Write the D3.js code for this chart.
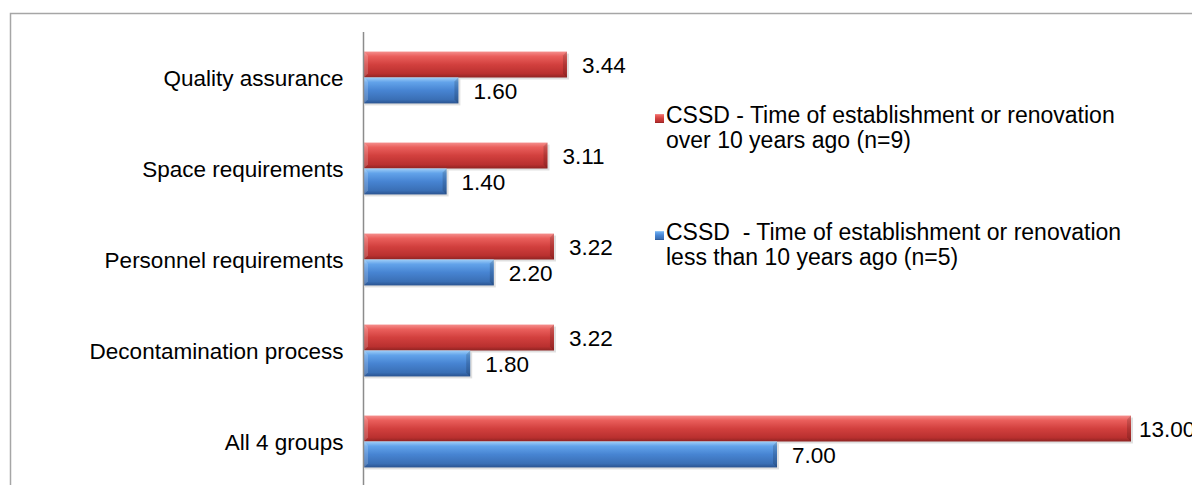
<!DOCTYPE html>
<html><head><meta charset="utf-8">
<script src="https://cdn.jsdelivr.net/npm/d3@7"></script>
<style>body{margin:0;background:#fff}svg{display:block}text{font-family:"Liberation Sans",Arial,sans-serif;fill:#000}</style>
</head><body><svg id="c" width="1192" height="485"></svg>
<script>
const categories = ["Quality assurance","Space requirements","Personnel requirements","Decontamination process","All 4 groups"];
const seriesNames = ["CSSD - Time of establishment or renovation|over 10 years ago (n=9)","CSSD  - Time of establishment or renovation|less than 10 years ago (n=5)"];
const over10 = [3.44,3.11,3.22,3.22,13.00];
const less10 = [1.60,1.40,2.20,1.80,7.00];

const svg = d3.select("#c");
const defs = svg.append("defs");
function grad(id, stops){
  const g = defs.append("linearGradient").attr("id",id).attr("x1",0).attr("y1",0).attr("x2",0).attr("y2",1);
  stops.forEach(s=>g.append("stop").attr("offset",s[0]).attr("stop-color",s[1]));
}
grad("gRed",[[0,"#f58f8d"],[0.18,"#ea5f5c"],[0.5,"#d2403e"],[0.85,"#b9302f"],[1,"#8f2322"]]);
grad("gBlue",[[0,"#a0cff8"],[0.18,"#62a3ea"],[0.5,"#4784d2"],[0.85,"#3a6fb5"],[1,"#2a5390"]]);
const colors = ["url(#gRed)","url(#gBlue)"];
const legendColors = ["url(#gRed)","url(#gBlue)"];

svg.append("rect").attr("x",10.5).attr("y",13.5).attr("width",1300).attr("height",600)
  .attr("fill","none").attr("stroke","#a6a6a6").attr("stroke-width",1.5);

const x0 = 364;
const x = d3.scaleLinear().domain([0,13]).range([x0, x0+767]);
const y = d3.scaleBand().domain(categories).range([32,487]).paddingInner(0.43).paddingOuter(0.215);
const sub = d3.scaleBand().domain([0,1]).range([0,y.bandwidth()]);

const rows = categories.map((c,i)=>({c, v:[over10[i], less10[i]]}));
const g = svg.append("g");
rows.forEach(r=>{
  r.v.forEach((v,s)=>{
    const yy = y(r.c)+sub(s), h = sub.bandwidth(), w = x(v)-x0;
    g.append("rect").attr("x",x0+1).attr("y",yy+2).attr("width",w+1).attr("height",h)
      .attr("fill","rgba(0,0,0,0.12)");
    g.append("rect").attr("x",x0).attr("y",yy).attr("width",w).attr("height",h).attr("fill",colors[s]);
    const b=4;
    g.append("path").attr("d",`M${x0},${yy}L${x0+b},${yy+b}L${x0+b},${yy+h-b}L${x0},${yy+h}Z`).attr("fill","rgba(255,255,255,0.18)");
    g.append("path").attr("d",`M${x0+w},${yy}L${x0+w-b},${yy+b}L${x0+w-b},${yy+h-b}L${x0+w},${yy+h}Z`).attr("fill","rgba(0,0,0,0.15)");
    g.append("text").attr("x",Math.min(x(v)+15, 1139)).attr("y",yy+h/2).attr("dy","0.36em")
      .attr("font-size",22.5).text(v.toFixed(2));
  });
});

const ax = svg.append("g").attr("transform",`translate(${x0-0.5},0)`)
  .call(d3.axisLeft(y).tickSize(0).tickPadding(20));
ax.select(".domain").attr("stroke","#8c8c8c").attr("stroke-width",1.5).attr("d","M0,32V487");
ax.selectAll("text").attr("font-size",22.5).attr("font-family","Liberation Sans, Arial, sans-serif").attr("fill","#000").attr("dy","0.36em");

const leg = svg.append("g");
const legY = [123,240];
seriesNames.forEach((n,i)=>{
  const lines = n.split("|");
  leg.append("rect").attr("x",655).attr("y",legY[i]-9).attr("width",9).attr("height",9)
    .attr("fill",legendColors[i]);
  lines.forEach((l,j)=>{
    leg.append("text").attr("x",666).attr("y",legY[i]+j*25).attr("font-size",23)
      .attr("xml:space","preserve").style("white-space","pre").text(l);
  });
});
</script></body></html>
